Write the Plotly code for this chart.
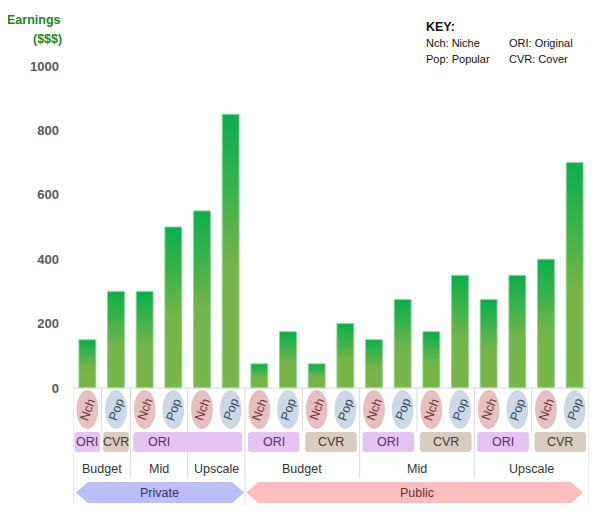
import plotly.graph_objects as go

# ---------------- data ----------------
segments = ["Private"] * 6 + ["Public"] * 12
popularity = ["Nch", "Pop"] * 9
sources = ["ORI", "CVR", "ORI", "ORI", "ORI", "ORI",
           "ORI", "ORI", "CVR", "CVR", "ORI", "ORI", "CVR", "CVR", "ORI", "ORI", "CVR", "CVR"]
earnings = [150, 300, 300, 500, 550, 850,
            75, 175, 75, 200, 150, 275, 175, 350, 275, 350, 400, 700]
y_ticks = [0, 200, 400, 600, 800, 1000]

# tier labels: (label, first bar, last bar)
tier_groups = [("Budget", 0, 1), ("Mid", 2, 3), ("Upscale", 4, 5),
               ("Budget", 6, 9), ("Mid", 10, 13), ("Upscale", 14, 17)]
# source boxes: (label, first bar, last bar, label position)
source_groups = [("ORI", 0, 0, 0), ("CVR", 1, 1, 1), ("ORI", 2, 5, 2.5),
                 ("ORI", 6, 7, 6.5), ("CVR", 8, 9, 8.5), ("ORI", 10, 11, 10.5),
                 ("CVR", 12, 13, 12.5), ("ORI", 14, 15, 14.5), ("CVR", 16, 17, 16.5)]
segment_groups = [("Private", 0, 5), ("Public", 6, 17)]

# ---------------- geometry helpers ----------------
# page places the figure with an 8px body margin; coordinates below are page pixels
OFF = 8
W_PAGE, H_PAGE = 600, 518
W, H = W_PAGE - OFF, H_PAGE - OFF
PLOT_L, PLOT_R = 73, 589          # page pixels of the plot area's x extent
ZERO_PX = 388.0                   # page pixel row of value 0
PX_PER_UNIT = 0.322               # pixels per earnings unit
N = len(earnings)
UNIT_PX = (PLOT_R - PLOT_L) / N


def yv(py):
    return (ZERO_PX - py) / PX_PER_UNIT


def xp(px):
    return (px - PLOT_L) / (PLOT_R - PLOT_L)


def ypp(py):
    return 1 - (py - OFF) / H


SANS = "Liberation Sans, Arial, sans-serif"

fig = go.Figure()

# ---------------- bars (gradient filled) ----------------
half = 0.295
grad = [[0.0, "#79B548"], [0.45, "#74B548"], [0.72, "#3AB34A"], [1.0, "#0AAF4C"]]
for i, v in enumerate(earnings):
    fig.add_trace(go.Scatter(
        x=[i - half, i + half, i + half, i - half, i - half],
        y=[0, 0, v, v, 0],
        mode="lines", fill="toself",
        fillgradient=dict(type="vertical", colorscale=grad, start=0, stop=v),
        line=dict(color="rgba(140,215,150,0.9)", width=1),
        hoverinfo="text", text=f"{segments[i]} {popularity[i]} {sources[i]}: {v}",
        showlegend=False,
    ))

shapes = []
grid_col = "#D9D9D9"

# horizontal baseline
shapes.append(dict(type="line", xref="x", yref="y", x0=-0.5, x1=N - 0.5, y0=0, y1=0,
                   line=dict(color=grid_col, width=1)))

# vertical separators
outer = [-0.5, 5.5, N - 0.5]
group = [1.5, 3.5, 9.5, 13.5]
sub = [0.5, 7.5, 11.5, 15.5]
for xs, bottom in ((outer, 505), (group, 478), (sub, 432)):
    for x in xs:
        shapes.append(dict(type="line", xref="x", yref="y", x0=x, x1=x,
                           y0=0, y1=yv(bottom), line=dict(color=grid_col, width=1)))

annotations = []

# row 1: popularity ellipses
ell_half = 0.38
for i, p in enumerate(popularity):
    fill = "#E7BFC1" if p == "Nch" else "#CCD8E6"
    tcol = "#6E3434" if p == "Nch" else "#34465E"
    shapes.append(dict(type="circle", xref="x", yref="y",
                       x0=i - ell_half, x1=i + ell_half, y0=yv(429), y1=yv(390),
                       fillcolor=fill, line=dict(width=0)))
    annotations.append(dict(x=i, y=yv(409.5), xref="x", yref="y", text=p,
                            showarrow=False, textangle=-70,
                            font=dict(family=SANS, size=12.5, color=tcol)))


def rrect(x0, x1, y0, y1, rx, ry):
    return (f"M{x0+rx},{y0} L{x1-rx},{y0} Q{x1},{y0} {x1},{y0+ry} "
            f"L{x1},{y1-ry} Q{x1},{y1} {x1-rx},{y1} L{x0+rx},{y1} "
            f"Q{x0},{y1} {x0},{y1-ry} L{x0},{y0+ry} Q{x0},{y0} {x0+rx},{y0} Z")


# row 2: source boxes
rx, ry = 3 / UNIT_PX, 3 / PX_PER_UNIT
for lab, a, b, pos in source_groups:
    m = 0.05 if a == b else 0.1
    fill = "#E5C3F2" if lab == "ORI" else "#D9CCBE"
    tcol = "#5A2E70" if lab == "ORI" else "#3C3C3C"
    shapes.append(dict(type="path", xref="x", yref="y",
                       path=rrect(a - 0.5 + m, b + 0.5 - m, yv(452), yv(432), rx, ry),
                       fillcolor=fill, line=dict(width=0)))
    annotations.append(dict(x=pos, y=yv(442), xref="x", yref="y", text=lab,
                            showarrow=False,
                            font=dict(family=SANS, size=12.5, color=tcol)))

# row 3: tier labels
for lab, a, b in tier_groups:
    annotations.append(dict(x=(a + b) / 2, y=yv(469), xref="x", yref="y", text=lab,
                            showarrow=False,
                            font=dict(family=SANS, size=12.5, color="#333333")))

# row 4: segment banners
depth = 0.42
ytop, ybot, ymid = yv(482), yv(503), yv(492.5)
seg_style = {"Private": ("#BDBDFA", "#33336E"), "Public": ("#FFBDBD", "#6A2C2C")}
for lab, a, b in segment_groups:
    x0 = a - 0.5 + (0.1 if a == 0 else 0.04)
    x1 = b + 0.5 - (0.03 if a == 0 else 0.21)
    fill, tcol = seg_style[lab]
    path = (f"M{x0},{ymid} L{x0+depth},{ytop} L{x1-depth},{ytop} L{x1},{ymid} "
            f"L{x1-depth},{ybot} L{x0+depth},{ybot} Z")
    shapes.append(dict(type="path", xref="x", yref="y", path=path,
                       fillcolor=fill, line=dict(width=0)))
    annotations.append(dict(x=(a + b) / 2, y=ymid, xref="x", yref="y", text=lab,
                            showarrow=False,
                            font=dict(family=SANS, size=12.5, color=tcol)))

# axis title
title_font = dict(family=SANS, size=12.5, color="#178A17", weight="bold")
annotations.append(dict(x=xp(63), y=ypp(19.5), xref="paper", yref="paper",
                        text="Earnings", showarrow=False, xanchor="right", yanchor="middle",
                        font=title_font))
annotations.append(dict(x=xp(64), y=ypp(38.5), xref="paper", yref="paper",
                        text="($$$)", showarrow=False, xanchor="right", yanchor="middle",
                        font=title_font))

# key
annotations.append(dict(x=xp(424), y=ypp(27.5), xref="paper", yref="paper",
                        text="KEY:", showarrow=False, xanchor="left", yanchor="middle",
                        font=dict(family=SANS, size=12.5, color="#111111", weight="bold")))
key_items = [("Nch: Niche", 424, 43.5), ("Pop: Popular", 424, 59.5),
             ("ORI: Original", 507, 43.5), ("CVR: Cover", 507, 59.5)]
for t, kx, ky in key_items:
    annotations.append(dict(x=xp(kx), y=ypp(ky), xref="paper", yref="paper",
                            text=t, showarrow=False, xanchor="left", yanchor="middle",
                            font=dict(family=SANS, size=11, color="#111111")))

fig.update_layout(
    width=W, height=H, autosize=False,
    margin=dict(l=PLOT_L - OFF, r=W_PAGE - PLOT_R, t=0, b=0, pad=0),
    paper_bgcolor="white", plot_bgcolor="white",
    shapes=shapes, annotations=annotations,
    showlegend=False,
    xaxis=dict(range=[-0.5, N - 0.5], showgrid=False, zeroline=False,
               showticklabels=False, ticks="", showline=False, fixedrange=True),
    yaxis=dict(range=[yv(H_PAGE), yv(OFF)], showgrid=False, zeroline=False, showline=False,
               tickmode="array", tickvals=y_ticks, ticktext=[str(t) for t in y_ticks],
               ticks="", ticklabelstandoff=13,
               tickfont=dict(family=SANS, size=13, color="#595959", weight="bold"),
               fixedrange=True),
)

fig.write_html("out.html")
